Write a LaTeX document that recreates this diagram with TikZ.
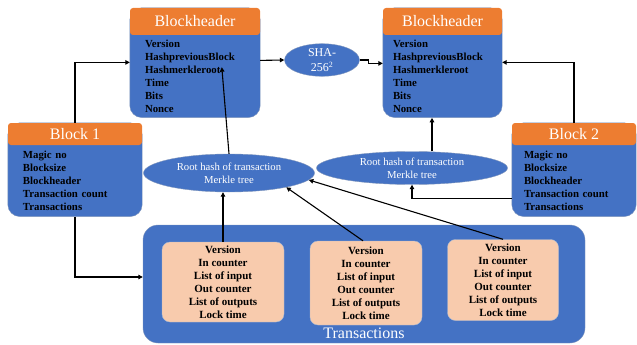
\documentclass[tikz,border=0pt]{standalone}
\usepackage{fontspec}
\setmainfont{Liberation Serif}
\usetikzlibrary{positioning,fit,backgrounds,shapes.geometric,arrows.meta}
\definecolor{boxblue}{HTML}{4472C4}
\definecolor{edgeblue}{HTML}{2F528F}
\definecolor{hdorange}{HTML}{ED7D31}
\definecolor{txpeach}{HTML}{F8CBAD}

\begin{document}
\begin{tikzpicture}[
  x=1pt, y=-1pt,
  % Orange title bars and the field lists below them
  hdr/.style={fill=hdorange, text=white, rounded corners=3pt, inner sep=0pt, font=\fontsize{16}{18}\selectfont},
  lst/.style={align=left, inner ysep=0pt, font=\fontsize{10.8}{13}\selectfont\bfseries},
  bodybg/.style={fill=boxblue, draw=edgeblue!60, rounded corners=12pt, inner sep=0pt},
  % Hash ellipses
  merk/.style={ellipse, fill=boxblue, draw=edgeblue!60, text=white, inner sep=0pt, align=center, font=\fontsize{10.7}{13}\selectfont},
  % Transaction boxes
  txall/.style={fill=boxblue, draw=edgeblue!60, rounded corners=15pt, minimum width=442pt, minimum height=118pt},
  txn/.style={fill=txpeach, draw=edgeblue!40, rounded corners=8pt, inner sep=0pt, align=center, font=\fontsize{11}{13}\selectfont\bfseries},
  conn/.style={-{Triangle[length=4.5pt,width=4.5pt]}, line width=1.1pt}
]
\useasboundingbox (0,0) rectangle (637,345);

% Block headers
\node[hdr, minimum width=130pt, minimum height=27pt] (bh1hd) at (195,21.5) {Blockheader};
\node[lst, below=0pt of bh1hd, text width=100pt, inner xsep=15pt, minimum height=82pt] (bh1)
  {Version\\HashpreviousBlock\\Hashmerkleroot\\Time\\Bits\\Nonce};
\node[hdr, minimum width=119pt, minimum height=27pt] (bh2hd) at (442.5,21.5) {Blockheader};
\node[lst, below=0pt of bh2hd, text width=99pt, inner xsep=10pt, minimum height=82pt] (bh2)
  {Version\\HashpreviousBlock\\Hashmerkleroot\\Time\\Bits\\Nonce};

% Blocks
\node[hdr, minimum width=134pt, minimum height=22pt] (b1hd) at (75,134) {Block 1};
\node[lst, below=0pt of b1hd, text width=104pt, inner xsep=15pt, minimum height=71pt] (b1)
  {Magic no\\Blocksize\\Blockheader\\Transaction count\\Transactions};
\node[hdr, minimum width=124pt, minimum height=22pt] (b2hd) at (574,134) {Block 2};
\node[lst, below=0pt of b2hd, text width=100pt, inner xsep=12pt, minimum height=71pt] (b2)
  {Magic no\\Blocksize\\Blockheader\\Transaction count\\Transactions};

\begin{scope}[on background layer]
  \node[bodybg, fit=(bh1hd)(bh1)] (bh1bg) {};
  \node[bodybg, fit=(bh2hd)(bh2)] (bh2bg) {};
  \node[bodybg, fit=(b1hd)(b1)] (b1bg) {};
  \node[bodybg, fit=(b2hd)(b2)] (b2bg) {};
\end{scope}

% Hashes
\node[merk, minimum width=75pt, minimum height=30pt, font=\fontsize{12}{15}\selectfont] (sha) at (322,60) {SHA-\\256\textsuperscript{2}};
\node[merk, minimum width=171pt, minimum height=38pt] (m1) at (229,173) {Root hash of transaction\\Merkle tree};
\node[merk, minimum width=191pt, minimum height=33pt] (m2) at (412,168) {Root hash of transaction\\Merkle tree};

% Transactions
\node[txall] (txs) at (364,284) {};
\node[txn, minimum width=122pt, minimum height=80pt] (tx1) at (223,282)
  {Version\\In counter\\List of input\\Out counter\\List of outputs\\Lock time};
\node[txn, minimum width=112pt, minimum height=84pt] (tx2) at (366,283)
  {Version\\In counter\\List of input\\Out counter\\List of outputs\\Lock time};
\node[txn, minimum width=111pt, minimum height=81pt] (tx3) at (503,280)
  {Version\\In counter\\List of input\\Out counter\\List of outputs\\Lock time};
\node[text=white, font=\fontsize{16}{18}\selectfont, inner sep=0pt] (txlbl) at (364,333) {Transactions};

% Connectors
\draw[conn] (b1hd.north) |- ([yshift=14pt]bh1.west);
\draw[conn] ([yshift=16pt]bh1.east) -- (sha.west);
\draw[conn] (sha.east) -- ++(9,0) |- ([yshift=13pt]bh2.west);
\draw[conn] (b2hd.north) |- ([yshift=14pt]bh2.east);
\draw[conn] (m1.north) -- ([shift={(92pt,-32pt)}]bh1.north west);
\draw[conn] ([xshift=20pt]m2.north) -- ([xshift=20pt]m2.north |- bh2bg.south);
\draw[conn] ([yshift=-18pt]b2.west) -| (m2.south);
\draw[conn] (b1bg.south) |- ([yshift=7pt]txs.west);
\draw[conn] (tx1.north) -- (tx1.north |- m1.south);
\draw[conn] ([xshift=-3pt]tx2.north) -- (m1.-14);
\draw[conn] (tx3.north) -- (m1.-5);

\end{tikzpicture}
\end{document}
